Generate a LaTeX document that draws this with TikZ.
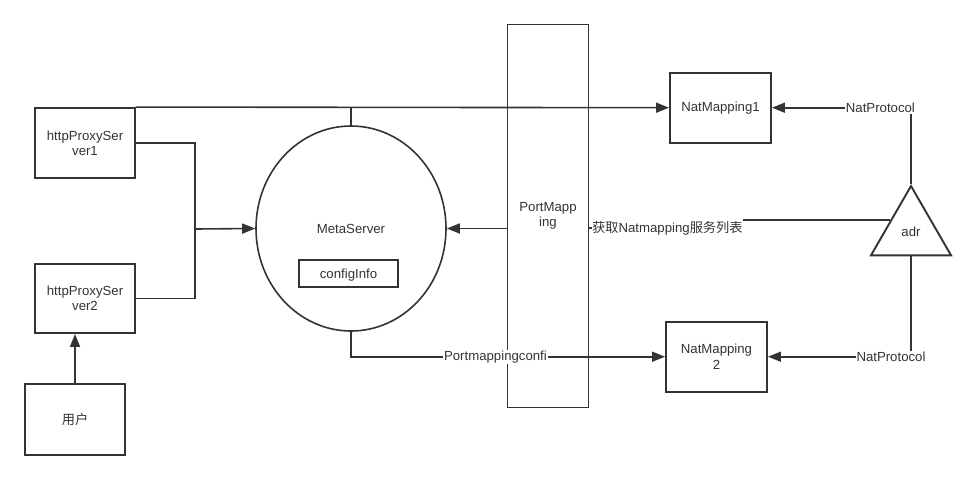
\documentclass[tikz,border=0pt]{standalone}
\usepackage{fontspec}
\setmainfont{Liberation Sans}
\newfontfamily\cjk{Noto Sans CJK SC}
\usetikzlibrary{arrows.meta,shapes.geometric,calc}
\begin{document}
\begin{tikzpicture}[x=1pt,y=-1pt,
  every node/.style={text=black!80,font=\fontsize{13.2}{15.4}\selectfont,align=center},
  box/.style={draw=black!80,line width=1.9pt,rectangle,inner sep=0pt},
  lbl/.style={fill=white,inner sep=1pt},
  arr/.style={-{Triangle[length=13pt,width=10pt]}},
  line/.style={draw=black!80,line width=1.6pt}]
\useasboundingbox (0,0) rectangle (976,480);
\node[box,minimum width=100,minimum height=70] (hps1) at (85,143) {httpProxySer\\ver1};
\node[box,minimum width=100,minimum height=69] (hps2) at (85,298.5) {httpProxySer\\ver2};
\node[box,minimum width=100,minimum height=71] (user) at (75,419.5) {\cjk 用户};
\node[draw=black!80,line width=1.6pt,ellipse,minimum width=190,minimum height=205,inner sep=0pt] (meta) at (351,228.5) {MetaServer};
\node[box,minimum width=99,minimum height=27,anchor=north,inner sep=1pt,text depth=0pt] (cfg) at (348.5,259) {configInfo};
\node[box,minimum width=81,minimum height=383] (pm) at (548,216) {PortMapp\\ing};
\node[box,minimum width=101,minimum height=70] (nm1) at (720.5,107.7) {NatMapping1};
\node[box,minimum width=101,minimum height=70] (nm2) at (716.5,356.7) {NatMapping\\2};
\node[draw=black!80,line width=1.9pt,regular polygon,regular polygon sides=3,minimum size=92.4,inner sep=0pt] (adr) at (911,232.2) {adr};
\coordinate (merge) at (195,229);
\draw[line] (hps1.east) -| (merge) |- (hps2.east);
\draw[line,arr] (merge) -- (meta.west);
\draw[line,arr] (user.north) -- (user.north |- hps2.south);
\draw[line,arr] (hps1.north east) -- (nm1.west);
\draw[line] (meta.north) -- (meta.north |- hps1.north east);
\draw[line,arr] (pm.west |- meta.east) -- (meta.east);
\draw[line,arr] (meta.south) |- node[lbl,pos=0.73] {Portmappingconfi} (nm2.west);
\node[lbl,inner sep=0pt,anchor=west] (getlist) at (592,228) {{\cjk 获取}Natmapping{\cjk 服务列表}};
\coordinate (adrin) at ($(adr.corner 1)!0.5!(adr.corner 2)$);
\draw[line] (pm.east |- getlist) -- (getlist.west);
\draw[line] (getlist.east |- adrin) -- (adrin);
\draw[line,arr] (adr.north) |- node[lbl,pos=0.61] {NatProtocol} (nm1.east);
\draw[line,arr] (adr.south) |- node[lbl,pos=0.57] {NatProtocol} (nm2.east);
\end{tikzpicture}
\end{document}
